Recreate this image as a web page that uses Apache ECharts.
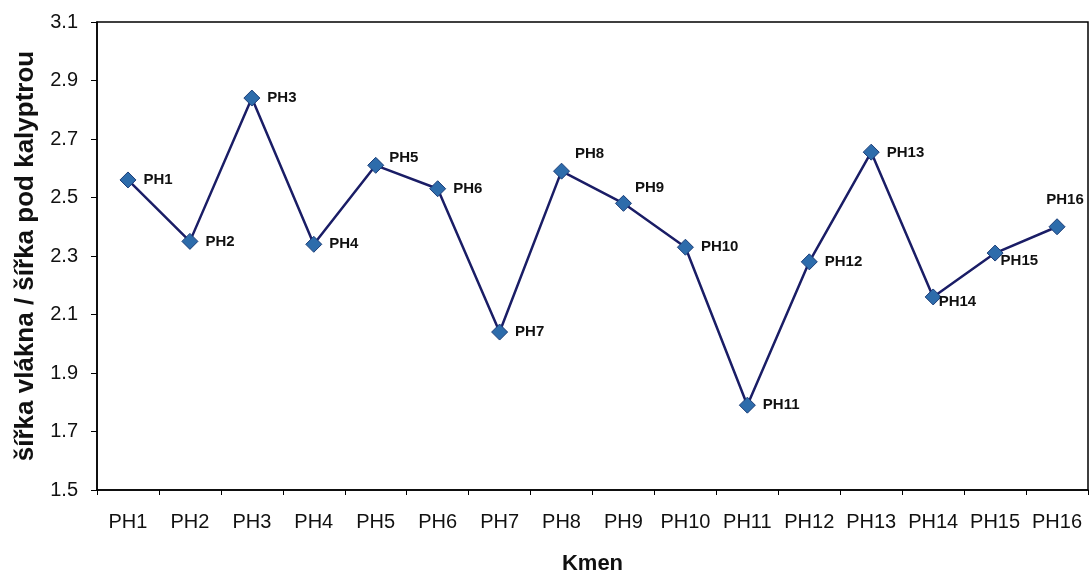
<!DOCTYPE html>
<html><head><meta charset="utf-8">
<script src="https://cdn.jsdelivr.net/npm/echarts@6/dist/echarts.min.js"></script>
<style>html,body{margin:0;padding:0;background:#fff}#c{width:1091px;height:573px}</style>
</head><body><div id="c"></div>
<script>
const categories = ['PH1','PH2','PH3','PH4','PH5','PH6','PH7','PH8','PH9','PH10','PH11','PH12','PH13','PH14','PH15','PH16'];
const values = [2.56, 2.35, 2.84, 2.34, 2.61, 2.53, 2.04, 2.59, 2.48, 2.33, 1.79, 2.28, 2.655, 2.16, 2.31, 2.40];
const yTicks = { min: 1.5, max: 3.1, interval: 0.2 };

const labelOffsets = {
  PH5: [0, -7], PH8: [0, -17], PH9: [-2, -15], PH13: [2, 1],
  PH14: [-8, 5], PH15: [-8, 8]
};

const chart = echarts.init(document.getElementById('c'));
const data = values.map((v, i) => {
  const name = categories[i];
  let label = { position: 'right', offset: labelOffsets[name] || [2, 0] };
  if (name === 'PH16') label = { position: 'top', offset: [8, -6] };
  return { value: v, label };
});
const FONT = 'Liberation Sans, Arial, sans-serif';
chart.setOption({
  animation: false,
  grid: { left: 97, right: 3, top: 22, bottom: 83, show: true, borderColor: '#000', borderWidth: 1.5,
          containLabel: false, outerBoundsMode: 'none' },
  xAxis: {
    type: 'category', data: categories, boundaryGap: true,
    axisLine: { lineStyle: { color: '#000', width: 1.5 } },
    axisTick: { show: true, alignWithLabel: false, interval: 0, length: 5, lineStyle: { color: '#000' } },
    axisLabel: { color: '#111', fontSize: 20, fontFamily: FONT, margin: 22, interval: 0, hideOverlap: false },
    name: 'Kmen', nameLocation: 'middle', nameGap: 63,
    nameTextStyle: { fontSize: 22, fontWeight: 'bold', color: '#111', fontFamily: FONT }
  },
  yAxis: {
    type: 'value', min: yTicks.min, max: yTicks.max, interval: yTicks.interval,
    splitLine: { show: false },
    axisLine: { show: true, lineStyle: { color: '#000', width: 1.5 } },
    axisTick: { show: true, length: 6, lineStyle: { color: '#000' } },
    axisLabel: { color: '#111', fontSize: 20, fontFamily: FONT, margin: 19, formatter: v => v.toFixed(1) },
    name: 'šířka vlákna / šířka pod kalyptrou', nameLocation: 'middle', nameGap: 57, nameRotate: 90,
    nameTextStyle: { fontSize: 26, fontWeight: 'bold', color: '#111', fontFamily: FONT }
  },
  series: [{
    type: 'line', data: data,
    symbol: 'diamond', symbolSize: 16,
    lineStyle: { color: '#1a1d66', width: 2.5 },
    itemStyle: { color: '#2d6cab', borderColor: '#1b3d78', borderWidth: 1 },
    label: {
      show: true, formatter: p => categories[p.dataIndex],
      color: '#111', fontSize: 15, fontWeight: 'bold', fontFamily: FONT
    }
  }]
});
</script></body></html>
